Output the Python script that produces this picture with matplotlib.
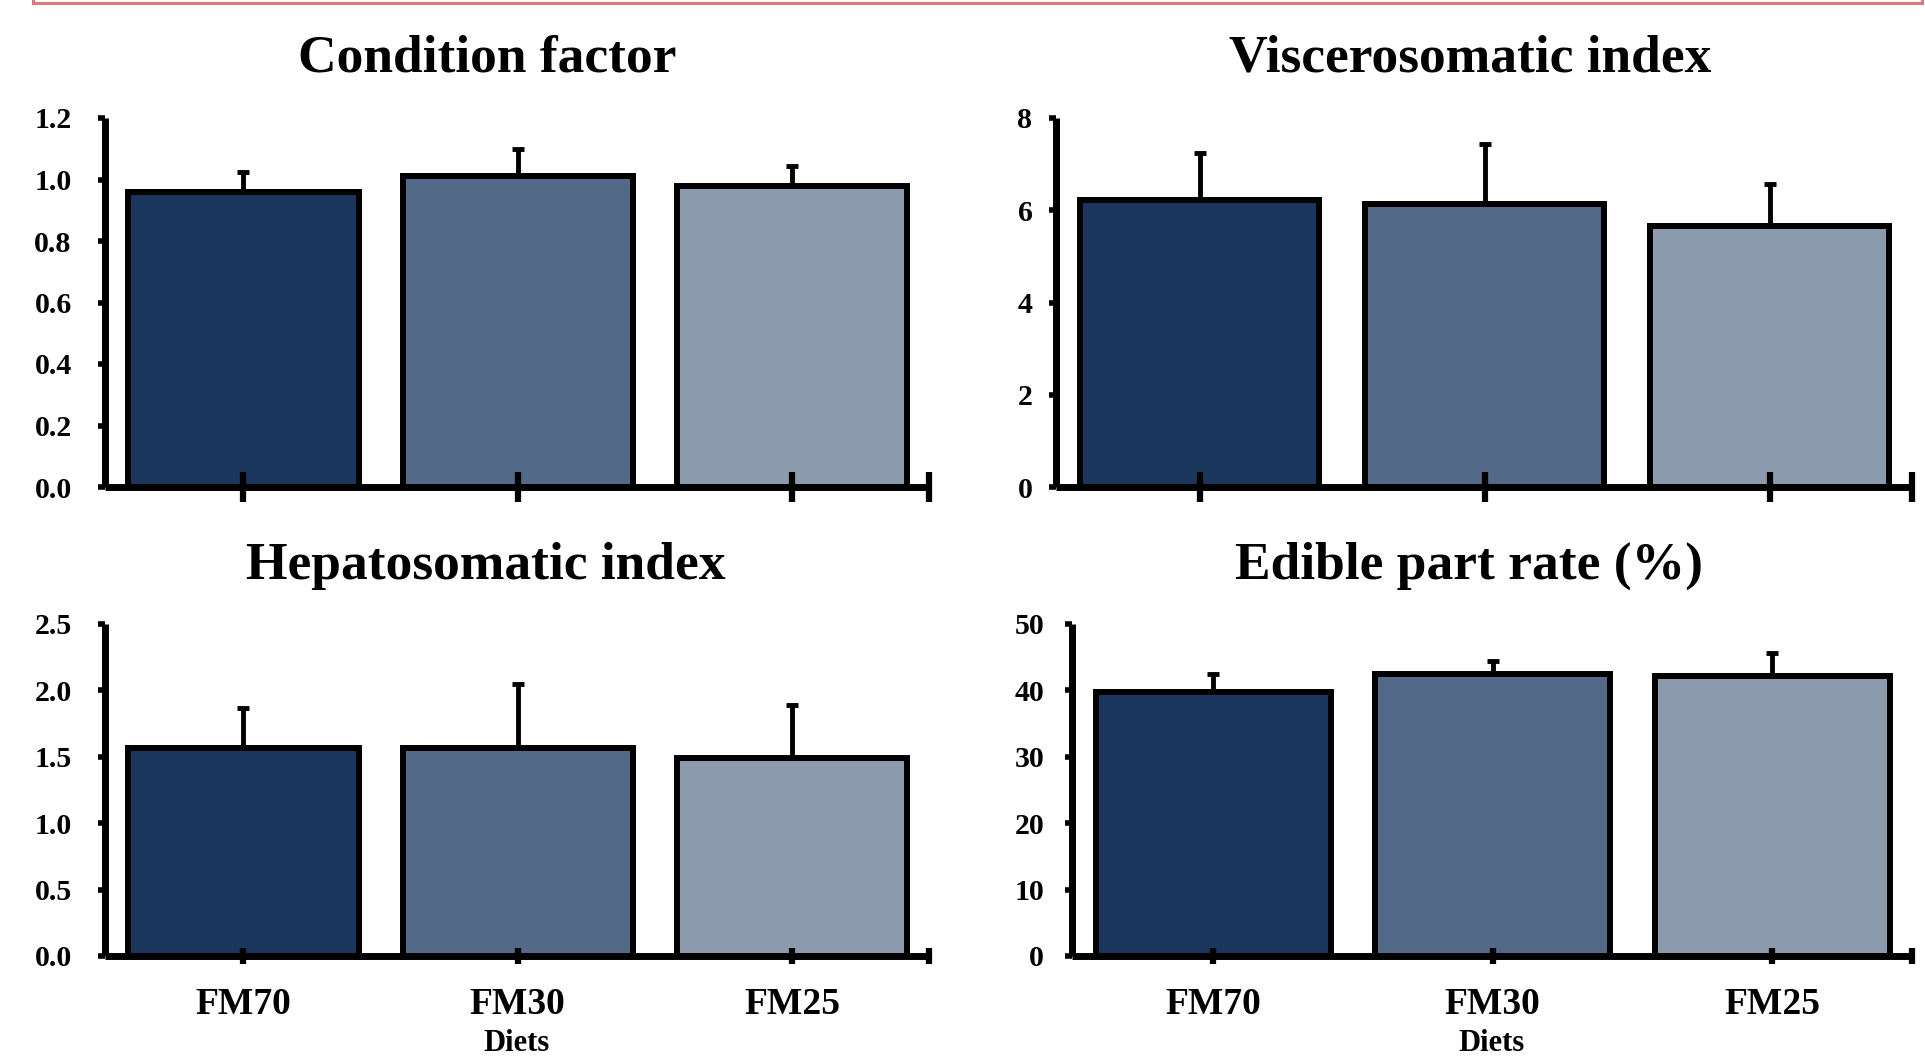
import matplotlib
matplotlib.use("Agg")
import matplotlib.pyplot as plt
from matplotlib.lines import Line2D

plt.rcParams["font.family"] = ["Liberation Serif", "DejaVu Serif"]
plt.rcParams["font.weight"] = "bold"

# data (mean, upper error)
diets = ["FM70", "FM30", "FM25"]
colors = ["#1B365D", "#536988", "#8B9BAD"]

cond_factor = [0.96, 1.01, 0.98]
cond_factor_err = [0.065, 0.09, 0.065]
viscero_index = [6.22, 6.13, 5.66]
viscero_index_err = [1.02, 1.30, 0.90]
hepato_index = [1.57, 1.57, 1.49]
hepato_index_err = [0.30, 0.48, 0.40]
edible_rate = [39.7, 42.4, 42.2]
edible_rate_err = [2.7, 2.1, 3.5]

titles = ["Condition factor", "Viscerosomatic index", "Hepatosomatic index", "Edible part rate (%)"]
yticks_list = [
    [0.0, 0.2, 0.4, 0.6, 0.8, 1.0, 1.2],
    [0, 2, 4, 6, 8],
    [0.0, 0.5, 1.0, 1.5, 2.0, 2.5],
    [0, 10, 20, 30, 40, 50],
]
ytick_fmt = ["{:.1f}", "{:.0f}", "{:.1f}", "{:.0f}"]
values = [cond_factor, viscero_index, hepato_index, edible_rate]
errors = [cond_factor_err, viscero_index_err, hepato_index_err, edible_rate_err]

W, H = 1925, 1059
fig = plt.figure(figsize=(W / 100, H / 100), dpi=100)

# axes boxes in pixels: left, right, bottom(y of zero), top
boxes = [
    (105, 929, 487, 118),
    (1056, 1912, 487, 118),
    (105, 929, 956, 624),
    (1072, 1912, 956, 624),
]
ypads = [19, 12, 19, 15]
tick_len = [21, 21, 12, 12]
title_pos = [(487, 59), (1470, 59), (486, 566), (1469, 566)]

for i in range(4):
    l, r, b, t = boxes[i]
    ax = fig.add_axes([l / W, 1 - b / H, (r - l) / W, (b - t) / H])
    x = range(len(diets))
    ax.errorbar(x, values[i], yerr=[[0] * 3, errors[i]], fmt="none",
                ecolor="black", elinewidth=3.5, capsize=4.3, capthick=3.5, zorder=1)
    ax.bar(x, values[i], width=0.84, color=colors, edgecolor="black",
           linewidth=4.3, zorder=2)
    ax.set_xlim(-0.505, 2.5)
    ax.set_ylim(yticks_list[i][0], yticks_list[i][-1])
    for s in ["top", "right"]:
        ax.spines[s].set_visible(False)
    for s in ["left", "bottom"]:
        ax.spines[s].set_linewidth(5)
        ax.spines[s].set_capstyle("butt")
    ax.set_yticks(yticks_list[i])
    ax.set_yticklabels([ytick_fmt[i].format(v) for v in yticks_list[i]])
    ax.tick_params(axis="y", direction="out", length=5, width=4, pad=ypads[i],
                   labelsize=21.5)
    ax.set_xticks([0, 1, 2])
    ax.set_xticks([2.5], minor=True)
    ax.tick_params(axis="x", which="both", direction="inout", length=tick_len[i],
                   width=4.5, labelsize=27, pad=16)
    if i < 2:
        ax.set_xticklabels([])
    else:
        ax.set_xticklabels(diets)
    for lab in ax.get_xticklabels() + ax.get_yticklabels():
        lab.set_fontweight("bold")
    ax.xaxis.set_zorder(3)
    for sp in ax.spines.values():
        sp.set_zorder(3)
    fig.text(title_pos[i][0] / W, 1 - title_pos[i][1] / H, titles[i],
             ha="center", va="center", fontsize=38.5, fontweight="bold")

# "Diets" sits right at the bottom edge, keep it inside the canvas
fig.text(517 / W, 1 / H, "Diets", ha="center", va="bottom", fontsize=22, fontweight="bold")
fig.text(1492 / W, 1 / H, "Diets", ha="center", va="bottom", fontsize=22, fontweight="bold")

# red frame edge at the very top
red = "#D9797B"
fig.add_artist(Line2D([33 / W, 1922 / W], [1 - 3 / H, 1 - 3 / H], color=red, lw=2.2))
fig.add_artist(Line2D([33 / W, 33 / W], [1, 1 - 3 / H], color=red, lw=2.2))
fig.add_artist(Line2D([1922 / W, 1922 / W], [1, 1 - 3 / H], color=red, lw=2.2))

fig.savefig("out.png", dpi=100)
